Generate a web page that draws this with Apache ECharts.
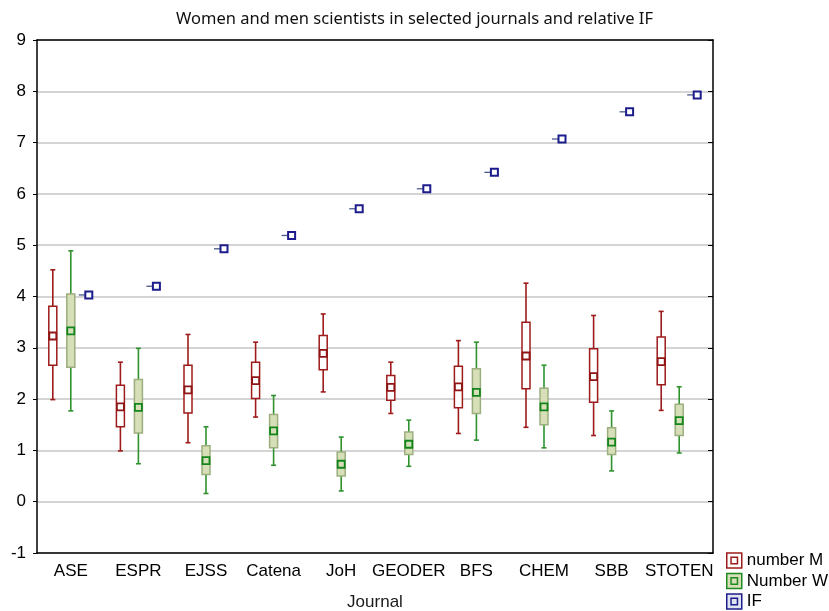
<!DOCTYPE html>
<html>
<head>
<meta charset="utf-8">
<style type="text/css">
	html, body{
		margin: 0;
		padding: 0;
		background: #fff;
	}
	#chart{
		width: 829px;
		height: 611px;
	}
</style>
</head>
<body>
<div id="chart"></div>
<script src="https://cdn.jsdelivr.net/npm/echarts@6/dist/echarts.min.js"></script>
<script>
// categories
var journals = ['ASE', 'ESPR', 'EJSS', 'Catena', 'JoH', 'GEODER', 'BFS', 'CHEM', 'SBB', 'STOTEN'];

// [whisker low, box low, mean, box high, whisker high] per journal
var numberM = [
	[1.99, 2.66, 3.23, 3.81, 4.52],
	[0.99, 1.46, 1.85, 2.27, 2.72],
	[1.15, 1.73, 2.18, 2.66, 3.26],
	[1.65, 2.01, 2.36, 2.72, 3.11],
	[2.14, 2.57, 2.89, 3.24, 3.66],
	[1.72, 1.98, 2.23, 2.46, 2.72],
	[1.33, 1.83, 2.24, 2.64, 3.14],
	[1.45, 2.20, 2.84, 3.50, 4.26],
	[1.29, 1.94, 2.44, 2.98, 3.63],
	[1.78, 2.28, 2.73, 3.21, 3.71]
];
var numberW = [
	[1.77, 2.62, 3.33, 4.05, 4.89],
	[0.74, 1.34, 1.84, 2.38, 2.99],
	[0.16, 0.53, 0.80, 1.09, 1.46],
	[0.71, 1.05, 1.38, 1.70, 2.07],
	[0.21, 0.50, 0.73, 0.97, 1.26],
	[0.69, 0.92, 1.12, 1.36, 1.59],
	[1.20, 1.72, 2.13, 2.59, 3.11],
	[1.05, 1.50, 1.85, 2.21, 2.66],
	[0.60, 0.92, 1.16, 1.44, 1.77],
	[0.95, 1.29, 1.58, 1.90, 2.24]
];
// impact factor
var impactFactor = [4.03, 4.20, 4.93, 5.19, 5.71, 6.10, 6.42, 7.07, 7.60, 7.93];

var yTicks = [-1, 0, 1, 2, 3, 4, 5, 6, 7, 8, 9];

var labelFont = '"Liberation Sans", Arial, sans-serif';

function boxData(stats){
	return stats.map(function (s, i) {
		return [i, s[0], s[1], s[2], s[3], s[4]];
	});
}

function makeBoxRender(offset, c){
	return function (params, api) {
		var idx = api.value(0);
		var x = api.coord([idx, 0])[0] + offset;
		var py = function (k) { return api.coord([idx, api.value(k)])[1]; };
		var lo = py(1), q1 = py(2), m = py(3), q3 = py(4), hi = py(5);
		var bw = 8, cap = 2.5, ms = 7;
		return {
			type: 'group',
			children: [
				{type: 'line', shape: {x1: x, y1: hi, x2: x, y2: lo}, style: {stroke: c.whisker, lineWidth: 1.6}},
				{type: 'line', shape: {x1: x - cap, y1: hi, x2: x + cap, y2: hi}, style: {stroke: c.whisker, lineWidth: 1.6}},
				{type: 'line', shape: {x1: x - cap, y1: lo, x2: x + cap, y2: lo}, style: {stroke: c.whisker, lineWidth: 1.6}},
				{type: 'rect', shape: {x: x - bw / 2, y: q3, width: bw, height: q1 - q3}, style: {fill: c.fill, stroke: c.box, lineWidth: 1.5}},
				{type: 'rect', shape: {x: x - ms / 2, y: m - ms / 2, width: ms, height: ms}, style: {fill: c.fill, stroke: c.mean, lineWidth: 1.8}}
			]
		};
	};
}

var colM = {whisker: '#9e1b1b', box: '#9e1b1b', fill: '#ffffff', mean: '#8f1414'};
var colW = {whisker: '#2f922f', box: '#9cae7e', fill: '#d6dfb8', mean: '#13861b'};

var legendIcon = 'path://M0,0H14V14H0Z M4,4H10V10H4Z';

var chart = echarts.init(document.getElementById('chart'));
var option = {
	animation: false,
	backgroundColor: '#fff',
	title: {
		text: 'Women and men scientists in selected journals and relative IF',
		left: 'center',
		top: 6,
		textStyle: {
			fontFamily: '"Noto Sans", sans-serif',
			fontSize: 16.5,
			fontWeight: 'normal',
			color: '#111'
		}
	},
	legend: {
		orient: 'vertical',
		left: 726,
		top: 552,
		padding: 0,
		itemWidth: 15,
		itemHeight: 15,
		itemGap: 3.5,
		textStyle: {fontFamily: labelFont, fontSize: 17, color: '#000', lineHeight: 17},
		data: [
			{name: 'number M', icon: legendIcon, itemStyle: {color: '#fff', borderColor: '#9e1b1b', borderWidth: 1.5}},
			{name: 'Number W', icon: legendIcon, itemStyle: {color: '#d6dfb8', borderColor: '#1f8a1f', borderWidth: 1.5}},
			{name: 'IF', icon: legendIcon, itemStyle: {color: '#dfe4f0', borderColor: '#1c1c8c', borderWidth: 1.5}}
		]
	},
	grid: {
		left: 37,
		right: 116,
		top: 40,
		bottom: 58,
		outerBoundsMode: 'none'
	},
	xAxis: [{
		type: 'category',
		data: journals,
		boundaryGap: true,
		name: 'Journal',
		nameLocation: 'middle',
		nameGap: 41,
		nameTextStyle: {fontFamily: labelFont, fontSize: 17, color: '#1a1a1a'},
		axisLine: {onZero: false, lineStyle: {color: '#000', width: 1.5}},
		axisTick: {alignWithLabel: true, inside: true, length: 5, lineStyle: {color: '#000'}},
		axisLabel: {interval: 0, fontFamily: labelFont, fontSize: 17, color: '#000', margin: 10}
	}, {
		type: 'category',
		data: journals,
		position: 'top',
		boundaryGap: true,
		axisLine: {onZero: false, lineStyle: {color: '#000', width: 1.5}},
		axisTick: {alignWithLabel: true, inside: true, length: 5, interval: 0, lineStyle: {color: '#000'}},
		axisLabel: {show: false}
	}],
	yAxis: [{
		type: 'value',
		min: yTicks[0],
		max: yTicks[yTicks.length - 1],
		interval: 1,
		axisLine: {show: true, onZero: false, lineStyle: {color: '#000', width: 1.5}},
		axisTick: {show: true, length: 4, lineStyle: {color: '#000'}},
		axisLabel: {fontFamily: labelFont, fontSize: 17, color: '#000', margin: 11},
		splitLine: {lineStyle: {color: '#d4d4d4', width: 2}}
	}, {
		type: 'value',
		position: 'right',
		min: yTicks[0],
		max: yTicks[yTicks.length - 1],
		interval: 1,
		axisLine: {show: true, onZero: false, lineStyle: {color: '#000', width: 1.5}},
		axisTick: {show: true, inside: true, length: 5, lineStyle: {color: '#000'}},
		axisLabel: {show: false},
		splitLine: {show: false}
	}],
	series: [{
		name: 'number M',
		type: 'custom',
		itemStyle: {color: '#9e1b1b'},
		renderItem: makeBoxRender(-18, colM),
		encode: {x: 0, y: [1, 2, 3, 4, 5]},
		data: boxData(numberM),
		z: 3
	}, {
		name: 'Number W',
		type: 'custom',
		itemStyle: {color: '#1f8a1f'},
		renderItem: makeBoxRender(0, colW),
		encode: {x: 0, y: [1, 2, 3, 4, 5]},
		data: boxData(numberW),
		z: 3
	}, {
		name: 'IF',
		type: 'custom',
		itemStyle: {color: '#1c1c8c'},
		renderItem: function (params, api) {
			var p = api.coord([api.value(0), api.value(1)]);
			var x = p[0] + 18, y = p[1];
			return {
				type: 'group',
				children: [
					{type: 'line', shape: {x1: x - 10, y1: y, x2: x - 4, y2: y}, style: {stroke: '#4a5a8a', lineWidth: 1.3}},
					{type: 'rect', shape: {x: x - 3.5, y: y - 3.5, width: 7, height: 7}, style: {fill: '#fff', stroke: '#1c1c8c', lineWidth: 2}}
				]
			};
		},
		encode: {x: 0, y: 1},
		data: impactFactor.map(function (v, i) { return [i, v]; }),
		z: 3
	}]
};
chart.setOption(option);
window.addEventListener('resize', function () {
	chart.resize();
});
</script>
</body>
</html>
